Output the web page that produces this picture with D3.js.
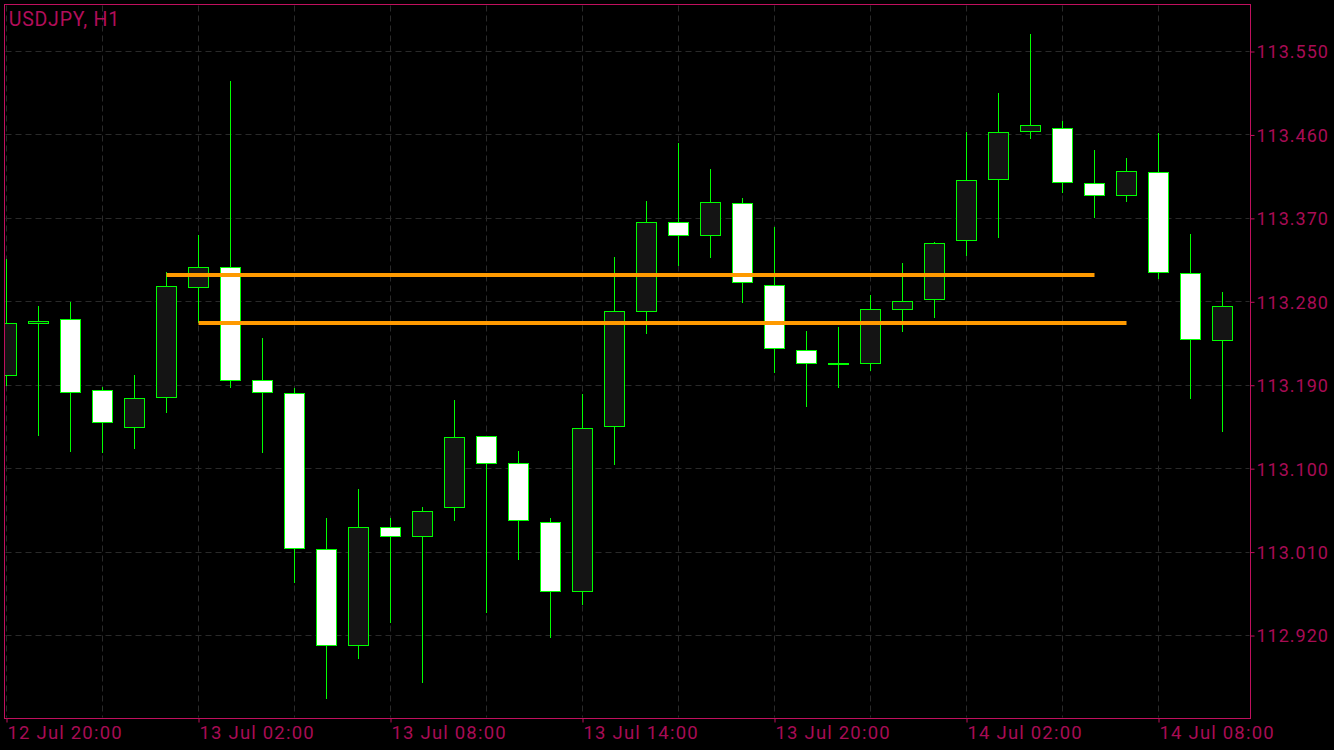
<!DOCTYPE html>
<html><head><meta charset="utf-8">
<script src="https://cdn.jsdelivr.net/npm/d3@7"></script>
<style>html,body{margin:0;padding:0;background:#000;overflow:hidden}</style>
</head><body><svg id="c" width="1334" height="750"></svg>
<script>
// ---- data ----
const chartTitle = "USDJPY, H1";
const startTime = Date.UTC(2017, 6, 12, 20, 0); // 12 Jul 20:00
const hourOffsets = [0,1,2,3,4,5,6,7,8,9,10,11,12,13,14,15,16,17,18,19,20,21,22,23,24,25,26,27,28,29,30,31,32,33,34,35,36,37,38];
const openVals  = [113.200,113.257,113.261,113.184,113.144,113.177,113.295,113.317,113.195,113.181,113.013,112.909,113.037,113.027,113.058,113.135,113.106,113.042,112.968,113.145,113.270,113.366,113.352,113.386,113.298,113.228,113.213,113.213,113.272,113.282,113.346,113.412,113.464,113.467,113.408,113.395,113.420,113.310,113.238];
const highVals  = [113.326,113.276,113.280,113.188,113.201,113.312,113.352,113.518,113.241,113.187,113.047,113.078,113.047,113.059,113.174,113.135,113.119,113.047,113.181,113.328,113.389,113.451,113.423,113.392,113.361,113.249,113.253,113.287,113.322,113.345,113.463,113.505,113.569,113.475,113.444,113.435,113.462,113.353,113.291];
const lowVals   = [113.189,113.135,113.118,113.117,113.121,113.160,113.257,113.187,113.117,112.977,112.852,112.895,112.933,112.869,113.044,112.944,113.002,112.917,112.953,113.104,113.245,113.319,113.327,113.279,113.203,113.166,113.187,113.205,113.247,113.262,113.329,113.349,113.456,113.397,113.370,113.388,113.305,113.175,113.140];
const closeVals = [113.257,113.259,113.182,113.150,113.176,113.296,113.317,113.195,113.182,113.014,112.909,113.036,113.027,113.054,113.134,113.106,113.044,112.967,113.143,113.269,113.366,113.352,113.387,113.301,113.230,113.213,113.213,113.272,113.280,113.343,113.411,113.463,113.470,113.409,113.395,113.421,113.312,113.239,113.275];
const priceTicks = [112.920,113.010,113.100,113.190,113.280,113.370,113.460,113.550];
const timeTickHours = [0,6,12,18,24,30,36];
const gridHours = [0,3,6,9,12,15,18,21,24,27,30,33,36];
const levelPrices = [113.309, 113.257];
const levelFromHour = [5, 6];
const levelToHour = [34, 35];

// ---- styles ----
const W = 1334, H = 750;
const L = 4.5, R = 1250.5, T = 4.5, B = 718.5;
const frameColor = "#c0105e";
const textColor = "#a80c55";
const gridColor = "#2a2a2a";
const candleStroke = "#00ff00";
const bullFill = "#141414";
const bearFill = "#ffffff";
const levelColor = "#ff9a00";
const fontFam = "Roboto, 'Liberation Sans', sans-serif";
const HOUR = 3600 * 1000;

const svg = d3.select("#c");
svg.append("rect").attr("width", W).attr("height", H).attr("fill", "#000");

const x = d3.scaleUtc()
  .domain([new Date(startTime - 0.0625 * HOUR), new Date(startTime + 38.875 * HOUR)])
  .range([L, R]);
const y = d3.scaleLinear().domain([112.8305, 113.6007]).range([B, T]);
const t = h => new Date(startTime + h * HOUR);
const px = v => Math.round(v - 0.5) + 0.5;

svg.append("defs").append("clipPath").attr("id", "plot")
  .append("rect").attr("x", L).attr("y", T).attr("width", R - L).attr("height", B - T);

// grid
const grid = svg.append("g").attr("stroke", gridColor).attr("stroke-width", 1).attr("stroke-dasharray", "6,4");
grid.selectAll("line.h").data(priceTicks).join("line")
  .attr("x1", L + 1).attr("x2", R - 1)
  .attr("y1", d => px(y(d))).attr("y2", d => px(y(d)));
grid.selectAll("line.v").data(gridHours).join("line")
  .attr("y1", T + 1).attr("y2", B - 1)
  .attr("x1", d => px(x(t(d)))).attr("x2", d => px(x(t(d))));

// candles
const candles = hourOffsets.map((h, i) => ({h, o: openVals[i], hi: highVals[i], lo: lowVals[i], c: closeVals[i]}));
const cg = svg.append("g").attr("clip-path", "url(#plot)");
const g = cg.selectAll("g.candle").data(candles).join("g");
g.append("line")
  .attr("x1", d => px(x(t(d.h)))).attr("x2", d => px(x(t(d.h))))
  .attr("y1", d => Math.round(y(d.hi))).attr("y2", d => Math.round(y(d.lo)))
  .attr("stroke", candleStroke).attr("stroke-width", 1);
g.append("rect")
  .attr("x", d => px(x(t(d.h))) - 10)
  .attr("width", 20)
  .attr("y", d => px(y(Math.max(d.o, d.c))))
  .attr("height", d => Math.max(1, px(y(Math.min(d.o, d.c))) - px(y(Math.max(d.o, d.c)))))
  .attr("fill", d => d.c > d.o ? bullFill : bearFill)
  .attr("stroke", candleStroke).attr("stroke-width", 1);

// level lines
const levels = levelPrices.map((p, i) => ({p, a: levelFromHour[i], b: levelToHour[i]}));
cg.selectAll("line.level").data(levels).join("line")
  .attr("x1", d => x(t(d.a))).attr("x2", d => x(t(d.b)))
  .attr("y1", d => y(d.p)).attr("y2", d => y(d.p))
  .attr("stroke", levelColor).attr("stroke-width", 4);

// frame
svg.append("rect").attr("x", L).attr("y", T).attr("width", R - L).attr("height", B - T)
  .attr("fill", "none").attr("stroke", frameColor).attr("stroke-width", 1);

// right axis
const yAxis = d3.axisRight(y).tickValues(priceTicks).tickFormat(d3.format(".3f")).tickSize(4).tickPadding(2);
const ya = svg.append("g").attr("transform", `translate(${R},0)`).call(yAxis);
ya.select(".domain").remove();
ya.selectAll(".tick line").attr("stroke", frameColor);
ya.selectAll(".tick text").attr("fill", textColor)
  .style("font-family", fontFam).style("font-size", "18px")
  .style("letter-spacing", "1px").attr("dy", "0.355em");

// bottom axis
const fmt = d3.utcFormat("%d %b %H:%M");
const xAxis = d3.axisBottom(x).tickValues(timeTickHours.map(t)).tickFormat(fmt).tickSize(4).tickPadding(2);
const xa = svg.append("g").attr("transform", `translate(0,${B})`).call(xAxis);
xa.select(".domain").remove();
xa.selectAll(".tick line").attr("stroke", frameColor);
xa.selectAll(".tick text").attr("fill", textColor).attr("text-anchor", "start").attr("x", 0.5)
  .attr("y", 20).attr("dy", 0)
  .style("font-family", fontFam).style("font-size", "18.5px")
  .style("letter-spacing", "1.2px");

// title
svg.append("text").attr("x", 8.7).attr("y", 25.7).text(chartTitle)
  .attr("fill", "#b20e5a")
  .style("font-family", fontFam).style("font-size", "19.5px")
  .style("letter-spacing", "0.8px");
</script>
</body></html>
